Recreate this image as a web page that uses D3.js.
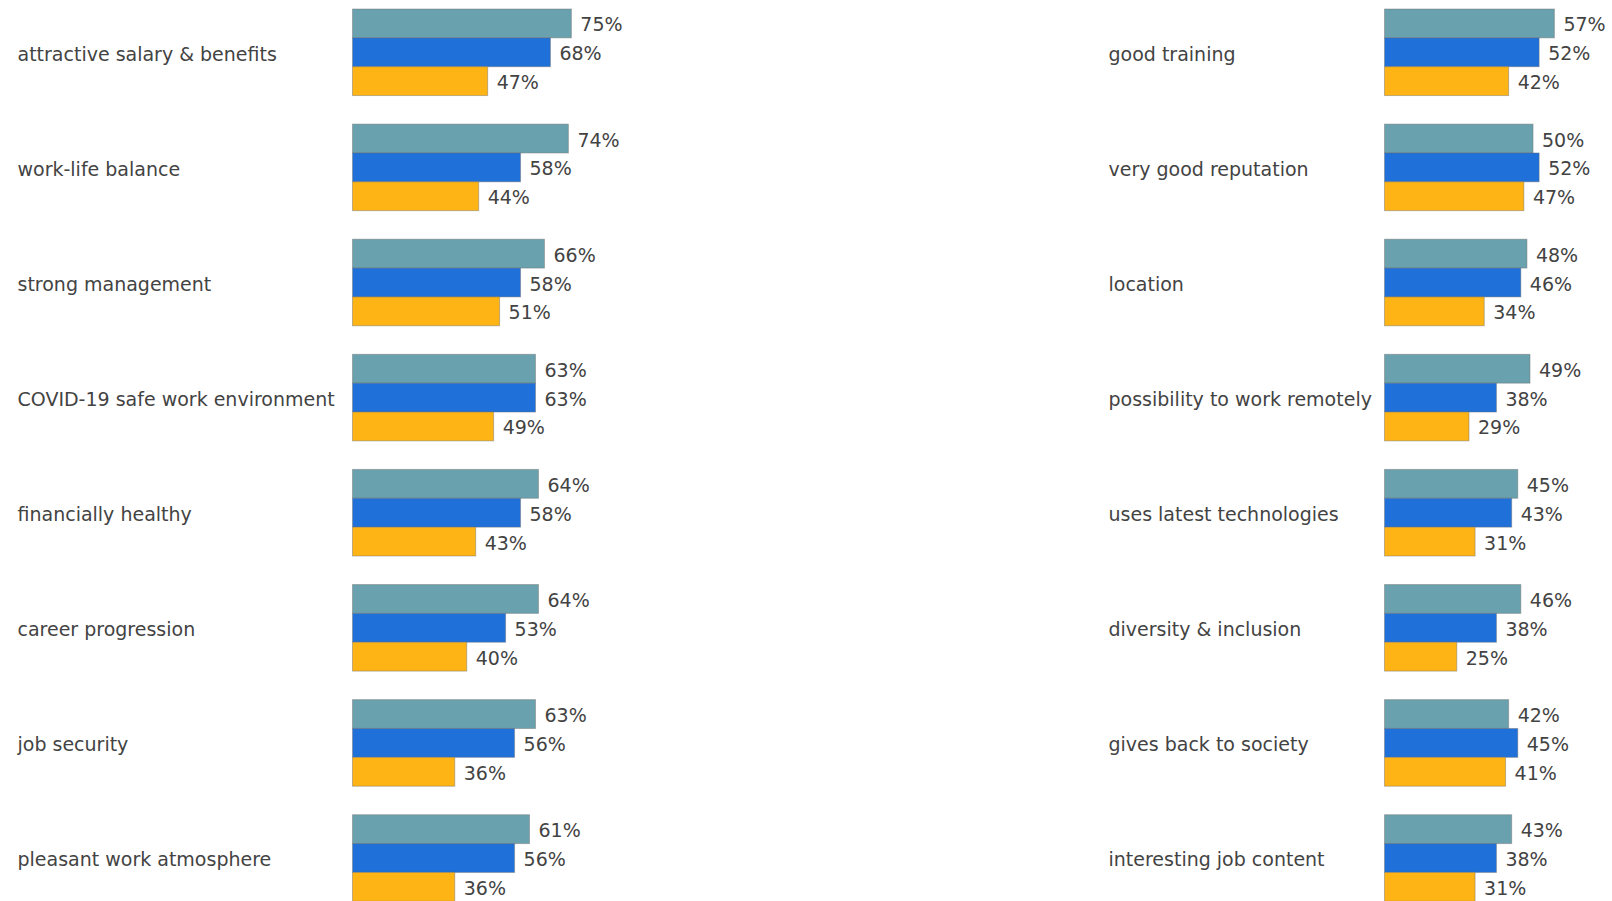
<!DOCTYPE html>
<html>
<head>
<meta charset="utf-8">
<script src="https://cdn.jsdelivr.net/npm/d3@7"></script>
<style>
  html, body { margin: 0; padding: 0; background: #ffffff; overflow: hidden; }
  svg { display: block; }
  text { font-family: "DejaVu Sans", Verdana, sans-serif; fill: #434343; }
</style>
</head>
<body>
<svg id="chart" width="1612" height="901"></svg>
<script>
// Employer attractiveness drivers, three series per driver
const seriesNames = ["series A", "series B", "series C"];
const seriesColors = ["#69a2ae", "#1f70d8", "#fdb414"];

const leftCategories = [
  "attractive salary & benefits",
  "work-life balance",
  "strong management",
  "COVID-19 safe work environment",
  "financially healthy",
  "career progression",
  "job security",
  "pleasant work atmosphere"
];
const leftSeriesA = [75, 74, 66, 63, 64, 64, 63, 61];
const leftSeriesB = [68, 58, 58, 63, 58, 53, 56, 56];
const leftSeriesC = [47, 44, 51, 49, 43, 40, 36, 36];

const rightCategories = [
  "good training",
  "very good reputation",
  "location",
  "possibility to work remotely",
  "uses latest technologies",
  "diversity & inclusion",
  "gives back to society",
  "interesting job content"
];
const rightSeriesA = [57, 50, 48, 49, 45, 46, 42, 43];
const rightSeriesB = [52, 52, 46, 38, 43, 38, 45, 38];
const rightSeriesC = [42, 47, 34, 29, 31, 25, 41, 31];

const svg = d3.select("#chart");

function drawPanel(cfg) {
  const rows = cfg.categories.map((c, i) => ({
    category: c,
    values: [cfg.a[i], cfg.b[i], cfg.c[i]]
  }));

  const y = d3.scaleBand()
    .domain(cfg.categories)
    .range([9, 901.3])
    .paddingInner(0.248)
    .paddingOuter(0)
    .align(0);

  const ySub = d3.scaleBand()
    .domain(seriesNames)
    .range([0, y.bandwidth()]);

  const x = d3.scaleLinear()
    .domain([cfg.xMin, 100])
    .range([cfg.barX, cfg.barX + cfg.pxPerUnit * (100 - cfg.xMin)]);

  const g = svg.append("g");

  const groups = g.selectAll("g.row")
    .data(rows)
    .join("g")
    .attr("class", "row")
    .attr("transform", d => `translate(0,${y(d.category)})`);

  // category label, centred on the middle bar
  groups.append("text")
    .attr("x", cfg.labelX)
    .attr("y", y.bandwidth() / 2 + 1.5)
    .attr("dy", "0.36em")
    .style("font-size", "19px")
    .text(d => d.category);

  const bars = groups.selectAll("g.bar")
    .data(d => d.values.map((v, k) => ({ v, key: seriesNames[k], color: seriesColors[k] })))
    .join("g")
    .attr("class", "bar");

  bars.append("rect")
    .attr("x", x(cfg.xMin))
    .attr("y", d => ySub(d.key))
    .attr("width", d => x(d.v) - x(cfg.xMin))
    .attr("height", ySub.bandwidth())
    .attr("fill", d => d.color)
    .attr("stroke", "rgba(110,110,110,0.45)")
    .attr("stroke-width", 1);

  bars.append("text")
    .attr("x", d => x(d.v) + 9)
    .attr("y", d => ySub(d.key) + ySub.bandwidth() / 2 + 1.2)
    .attr("dy", "0.36em")
    .style("font-size", "19px")
    .text(d => d.v + "%");
}

drawPanel({
  categories: leftCategories,
  a: leftSeriesA, b: leftSeriesB, c: leftSeriesC,
  labelX: 17.5, barX: 352.5, xMin: 1.8, pxPerUnit: 2.99
});

drawPanel({
  categories: rightCategories,
  a: rightSeriesA, b: rightSeriesB, c: rightSeriesC,
  labelX: 1108.5, barX: 1384.5, xMin: 1.3, pxPerUnit: 3.05
});
</script>
</body>
</html>
